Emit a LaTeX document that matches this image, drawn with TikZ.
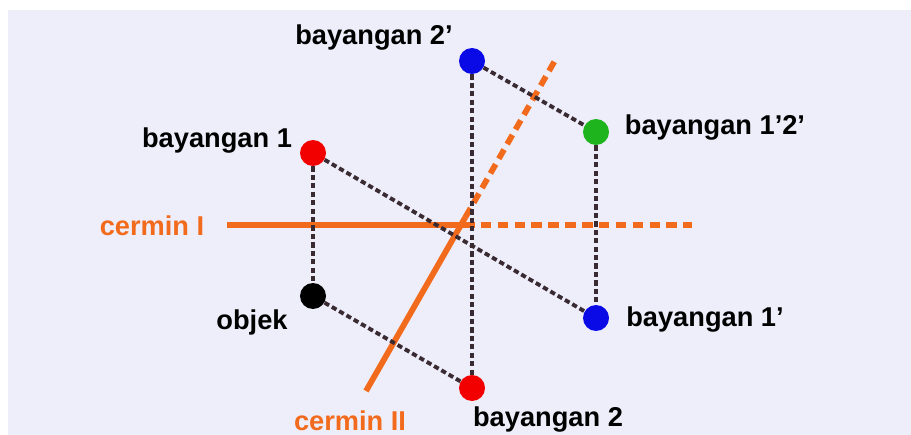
\documentclass[tikz,border=0pt]{standalone}
\usepackage{fontspec}
\setmainfont{Liberation Sans}
\usetikzlibrary{calc}
\definecolor{cerminOrange}{HTML}{F26B1D}
\definecolor{garisGelap}{HTML}{3A2A32}
\definecolor{latarUngu}{HTML}{EEEEFA}
\definecolor{titikMerah}{HTML}{F20000}
\definecolor{titikBiru}{HTML}{0A0AE6}
\definecolor{titikHijau}{HTML}{1EB41E}

\begin{document}
\begin{tikzpicture}[x=0.02cm, y=-0.02cm,
  titik/.style={circle, inner sep=0pt, minimum size=0.52cm},
  teks/.style={font=\bfseries\fontsize{15.5}{18}\selectfont, inner sep=0pt},
  garisbantu/.style={garisGelap, line width=2.2pt, dash pattern=on 3pt off 1.8pt},
  cermin/.style={cerminOrange, line width=3.3pt}]
  \useasboundingbox (0,0) rectangle (911,435);
  \fill[latarUngu] (8,10) rectangle (911,435);
  % ------- cermin -------
  \coordinate (c1a) at (227,225);
  \coordinate (c1b) at (692,225);
  \coordinate (c1m) at (464,225);
  \coordinate (c2a) at (366,391);
  \coordinate (c2b) at (557,57);
  \coordinate (c2m) at ($(c2a)!0.52!(c2b)$);
  \draw[cermin] (c1a) -- (c1m);
  \draw[cermin, dash pattern=on 6pt off 3.6pt] (c1m) -- (c1b);
  \draw[cermin] (c2a) -- (c2m);
  \draw[cermin, dash pattern=on 6pt off 3.6pt] (c2m) -- (c2b);
  % ------- titik -------
  \node[titik] (objek) at (313,296) {};
  \node[titik] (b1) at (313,153) {};
  \node[titik] (b2) at (472,388) {};
  \node[titik] (b1p) at (596,318) {};
  \node[titik] (b2p) at (472,61) {};
  \node[titik] (b12p) at (596,132) {};
  % ------- garis bantu -------
  \draw[garisbantu] (b1) -- (objek);
  \draw[garisbantu] (b1) -- (b1p);
  \draw[garisbantu] (objek) -- (b2);
  \draw[garisbantu] (b2p) -- (b2);
  \draw[garisbantu] (b2p) -- (b12p);
  \draw[garisbantu] (b12p) -- (b1p);
  % dots on top of the lines
  \foreach \n/\c in {objek/black, b1/titikMerah, b2/titikMerah, b1p/titikBiru, b2p/titikBiru, b12p/titikHijau}
    \fill[\c] (\n) circle (0.26cm);
  % ------- label -------
  \node[teks] (lb2p) at (374,38) {bayangan 2’};
  \node[teks] (lb1) at (217,141) {bayangan 1};
  \node[teks] (lb12p) at (715,128) {bayangan 1’2’};
  \node[teks, text=cerminOrange] (lc1) at (152,226) {cermin I};
  \node[teks] (lobjek) at (252,322) {objek};
  \node[teks] (lb1p) at (705,320) {bayangan 1’};
  \node[teks, text=cerminOrange] (lc2) at (350,421) {cermin II};
  \node[teks] (lb2) at (548,420) {bayangan 2};
\end{tikzpicture}
\end{document}
